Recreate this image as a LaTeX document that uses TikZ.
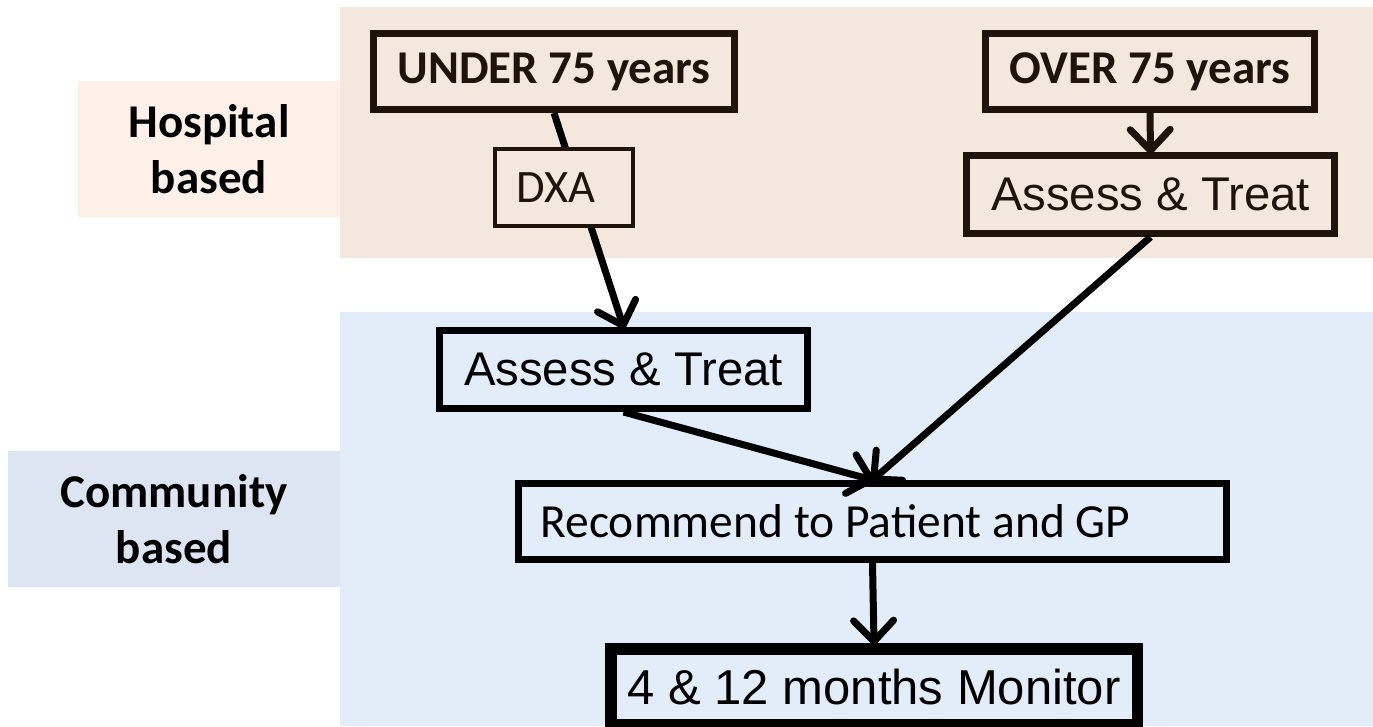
\documentclass[tikz,border=0pt]{standalone}
\usepackage{fontspec}
\setmainfont{Carlito}
\newfontfamily\arialfont{Liberation Sans}
\usetikzlibrary{arrows.meta}

\definecolor{hospbg}{HTML}{F4E7DE}
\definecolor{hosplab}{HTML}{FCF0E8}
\definecolor{commbg}{HTML}{E3ECF9}
\definecolor{commlab}{HTML}{DCE5F1}
\definecolor{ink}{HTML}{1F130C}

\begin{document}
\begin{tikzpicture}[x=1pt,y=-1pt,
  box/.style={draw, line width=7pt, inner sep=0pt, minimum height=76pt},
  hbox/.style={box, draw=ink, text=ink, fill=hospbg},
  cbox/.style={box, draw=black, text=black, fill=commbg},
  boldtxt/.style={font=\fontsize{47}{56}\selectfont\bfseries},
  calibritxt/.style={font=\fontsize{47.5}{56}\selectfont},
  ariatxt/.style={font=\arialfont\fontsize{47.3}{56}\selectfont},
  lane/.style={inner sep=0pt, align=center, boldtxt},
  link/.style={line width=7pt, shorten >=-2pt, -{Straight Barb[length=21pt,width=40pt,round]}},
]
% page
\useasboundingbox (0,0) rectangle (1373,726);
\fill[white] (0,0) rectangle (1373,726);

% swim lanes
\fill[hospbg] (340,7) rectangle (1373,258);
\fill[commbg] (340,312) rectangle (1373,726);
\node[lane, fill=hosplab, minimum width=262pt, minimum height=136pt] (hosp) at (209,149) {Hospital\\based};
\node[lane, fill=commlab, minimum width=332pt, minimum height=136pt] (comm) at (174,519) {Community\\based};

% hospital boxes
\node[hbox, boldtxt, minimum width=361pt] (under) at (554,71.5) {UNDER 75 years};
\node[hbox, boldtxt, minimum width=329pt] (over) at (1150,71.5) {OVER 75 years};
\node[hbox, ariatxt, minimum width=368pt, minimum height=78pt] (assessB) at (1150.5,194.5) {Assess \& Treat};

% community boxes
\node[cbox, ariatxt, minimum width=368pt, minimum height=78pt] (assessA) at (623.5,369.5) {Assess \& Treat};
\node[cbox, calibritxt, minimum width=708pt] (rec) at (872.5,521.5) {Recommend to Patient and GP\hspace*{74pt}};
\node[cbox, line width=11.5pt, font=\arialfont\fontsize{49}{56}\selectfont, minimum width=526.5pt] (mon) at (874,686.75) {4 \& 12 months Monitor};

% connectors
\draw[link, draw=black] (under.south) -- (assessA.north);
\draw[link, draw=ink] (over.south) -- (assessB.north);
\draw[link] (assessB.south) -- (rec.north);
\draw[link] (assessA.south) -- (rec.north);
\draw[link] (rec.south) -- (mon.north);

% DXA sits on the first connector
\node[hbox, line width=4pt, font=\fontsize{46.5}{56}\selectfont, minimum width=138pt, minimum height=77pt] (dxa) at (564,187.5) {DXA\hspace*{16pt}};
\end{tikzpicture}
\end{document}
